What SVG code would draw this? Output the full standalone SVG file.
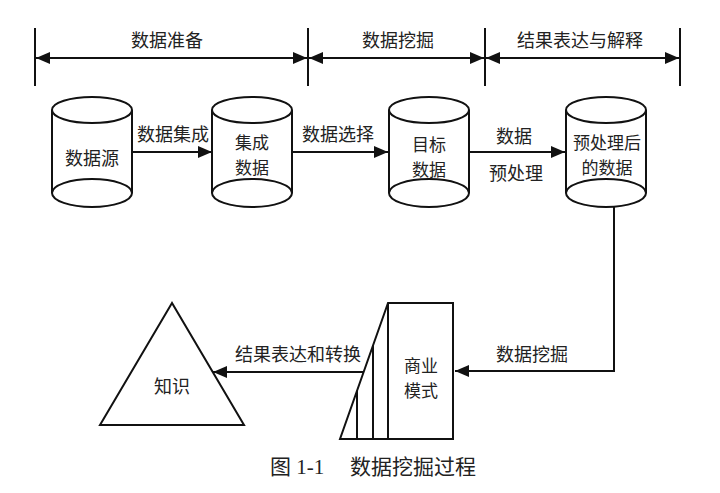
<svg xmlns="http://www.w3.org/2000/svg" width="720" height="493" viewBox="0 0 720 493">
<style>
.ln{fill:none;stroke:#111;stroke-width:2}
.sh{fill:#fff;stroke:#111;stroke-width:2}
.t{font-family:"Noto Sans CJK SC","Noto Sans",sans-serif;font-size:18px;fill:#222;text-anchor:middle;dominant-baseline:central}
.n{font-size:17px}
.cap{font-family:"Liberation Serif","Noto Sans CJK SC",serif;font-size:21px;fill:#222;dominant-baseline:central}
</style>
<defs>
<marker id="ah" viewBox="0 0 14 12" refX="14" refY="6" markerWidth="14" markerHeight="12" markerUnits="userSpaceOnUse" orient="auto-start-reverse">
<path d="M0,0 L14,6 L0,12 Z" fill="#111"/>
</marker>
</defs>
<g id="phases">
<line class="ln" x1="35" y1="28" x2="35" y2="86"/>
<line class="ln" x1="308" y1="28" x2="308" y2="86"/>
<line class="ln" x1="485" y1="28" x2="485" y2="86"/>
<line class="ln" x1="680" y1="28" x2="680" y2="86"/>
<line class="ln" x1="36" y1="58" x2="307" y2="58" marker-start="url(#ah)" marker-end="url(#ah)"/>
<line class="ln" x1="309" y1="58" x2="484" y2="58" marker-start="url(#ah)" marker-end="url(#ah)"/>
<line class="ln" x1="486" y1="58" x2="679" y2="58" marker-start="url(#ah)" marker-end="url(#ah)"/>
<text class="t" x="167" y="39">数据准备</text>
<text class="t" x="398" y="39">数据挖掘</text>
<text class="t" x="580" y="39">结果表达与解释</text>
</g>
<g id="connectors">
<line class="ln" x1="132" y1="152" x2="212" y2="152" marker-end="url(#ah)"/>
<line class="ln" x1="293" y1="152" x2="388" y2="152" marker-end="url(#ah)"/>
<line class="ln" x1="470" y1="152" x2="565" y2="152" marker-end="url(#ah)"/>
<polyline class="ln" points="614,207 614,371 455,371" marker-end="url(#ah)"/>
<line class="ln" x1="363" y1="372" x2="213" y2="372" marker-end="url(#ah)"/>
<text class="t" x="173" y="133">数据集成</text>
<text class="t" x="338" y="133">数据选择</text>
<text class="t" x="514" y="135">数据</text>
<text class="t" x="516" y="172">预处理</text>
<text class="t" x="532" y="353">数据挖掘</text>
<text class="t" x="298" y="353">结果表达和转换</text>
</g>
<g id="n-source">
<path class="sh" d="M52,110 L52,193 A40,14 0 0 0 132,193 L132,110"/>
<ellipse class="sh" cx="92" cy="110" rx="40" ry="13"/>
<path class="ln" d="M52,193 A40,14 0 0 1 132,193"/>
<text class="t" x="92" y="157">数据源</text>
</g>
<g id="n-integrated">
<path class="sh" d="M212,110 L212,193 A40,14 0 0 0 292,193 L292,110"/>
<ellipse class="sh" cx="252" cy="110" rx="40" ry="13"/>
<path class="ln" d="M212,193 A40,14 0 0 1 292,193"/>
<text class="t n" x="252" y="141">集成</text>
<text class="t n" x="252" y="166">数据</text>
</g>
<g id="n-target">
<path class="sh" d="M389,110 L389,193 A40,14 0 0 0 469,193 L469,110"/>
<ellipse class="sh" cx="429" cy="110" rx="40" ry="13"/>
<path class="ln" d="M389,193 A40,14 0 0 1 469,193"/>
<text class="t n" x="429" y="143">目标</text>
<text class="t n" x="429" y="168">数据</text>
</g>
<g id="n-preprocessed">
<path class="sh" d="M566,110 L566,193 A40,14 0 0 0 646,193 L646,110"/>
<ellipse class="sh" cx="606" cy="110" rx="40" ry="13"/>
<path class="ln" d="M566,193 A40,14 0 0 1 646,193"/>
<text class="t n" x="607" y="141">预处理后</text>
<text class="t n" x="607" y="166">的数据</text>
</g>
<g id="n-model">
<path class="sh" d="M388,303 L340,439 L453,439 L453,303 Z"/>
<line class="ln" x1="388" y1="303" x2="388" y2="439"/>
<line class="ln" x1="373" y1="345" x2="373" y2="439"/>
<line class="ln" x1="357" y1="391" x2="357" y2="439"/>
<text class="t n" x="421" y="364">商业</text>
<text class="t n" x="421" y="389">模式</text>
</g>
<g id="n-knowledge">
<path class="sh" d="M172,303 L100,425 L244,425 Z"/>
<text class="t" x="172" y="385">知识</text>
</g>
<g id="caption">
<text class="cap" x="270" y="467">图 1-1</text>
<text class="cap" x="350" y="467">数据挖掘过程</text>
</g>
</svg>
